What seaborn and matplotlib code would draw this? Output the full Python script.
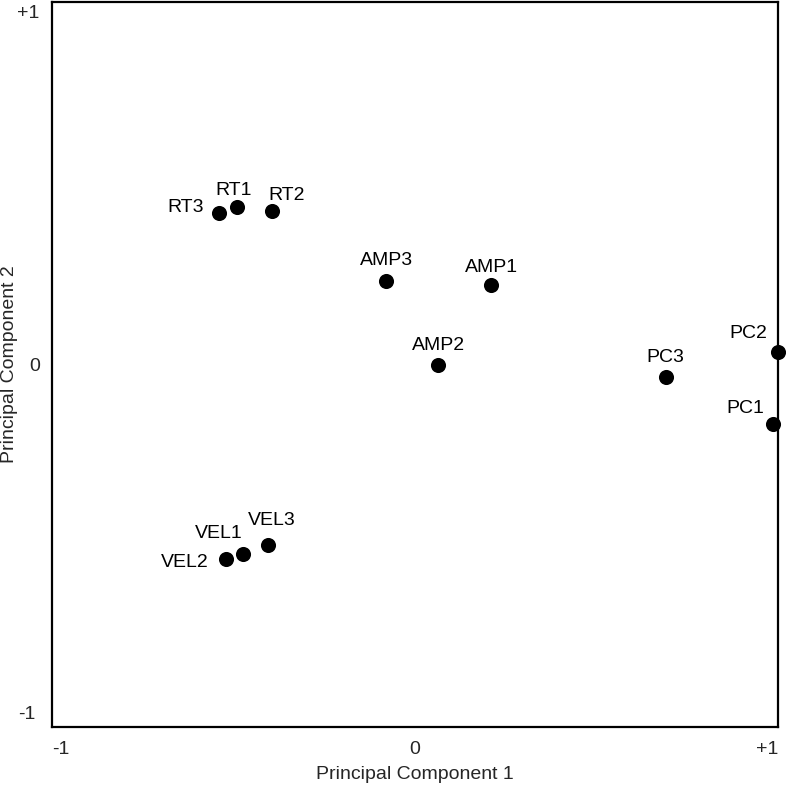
import numpy as np
import pandas as pd
import matplotlib
matplotlib.use("Agg")
import matplotlib.pyplot as plt
import matplotlib.transforms as mtransforms
import seaborn as sns

# sample labels and PCA scores
samples = ["RT3", "RT1", "RT2", "AMP3", "AMP1", "AMP2",
           "PC3", "PC2", "PC1", "VEL2", "VEL1", "VEL3"]
pc1 = [-0.540, -0.491, -0.395, -0.081, 0.209, 0.064,
       0.691, 1.001, 0.985, -0.521, -0.473, -0.404]
pc2 = [0.419, 0.434, 0.423, 0.231, 0.219, -0.001,
       -0.035, 0.034, -0.164, -0.537, -0.523, -0.498]

tick_vals = [-1, 0, 1]
tick_text = ["-1", "0", "+1"]

# label offsets in points (dx, dy of baseline centre)
label_off = {
    "RT3": (-24.1, 0.7), "RT1": (-2.2, 8.9), "RT2": (10.8, 7.9),
    "AMP3": (0.7, 11.3), "AMP1": (0.7, 9.6), "AMP2": (0, 10.8),
    "PC3": (-0.7, 11.2), "PC2": (-21.6, 10.1), "PC1": (-19.4, 8.1),
    "VEL2": (-29.5, -5.3), "VEL1": (-17.3, 11.3), "VEL3": (2.2, 14.4),
}

df = pd.DataFrame({"sample": samples, "pc1": pc1, "pc2": pc2})

sns.set_style("white")
plt.rcParams['font.family'] = ['Liberation Sans', 'DejaVu Sans']

fig = plt.figure(figsize=(7.86, 7.85), dpi=100)
ax = fig.add_axes([52 / 786, 1 - 727 / 785, 726 / 786, 725 / 785])

sns.scatterplot(data=df, x="pc1", y="pc2", ax=ax, color="black",
                s=118, edgecolor="black", linewidth=0, clip_on=False, zorder=3)

for _, row in df.iterrows():
    dx, dy = label_off[row["sample"]]
    ax.annotate(row["sample"], (row["pc1"], row["pc2"]), xytext=(dx, dy),
                textcoords="offset points", ha="center", va="baseline",
                fontsize=14, color="black")

ax.set_xlim(-1, 1)
ax.set_ylim(-1, 1)
ax.set_xticks(tick_vals)
ax.set_xticklabels(tick_text, fontsize=14)
ax.set_yticks(tick_vals)
ax.set_yticklabels(tick_text, fontsize=14)
ax.tick_params(axis="both", length=0)
ax.tick_params(axis="x", pad=10)
ax.tick_params(axis="y", pad=12)

xl = ax.get_xticklabels()
xl[0].set_ha("left")
xl[-1].set_ha("right")


def shift(lbl, dx_px, dy_px):
    lbl.set_transform(lbl.get_transform() +
                      mtransforms.ScaledTranslation(dx_px / 100, dy_px / 100,
                                                    fig.dpi_scale_trans))


yl = ax.get_yticklabels()
yl[0].set_va("bottom")
shift(yl[0], 0, 4)
shift(yl[1], 5, 0)
yl[-1].set_va("top")
shift(yl[-1], 4, -2.5)

ax.set_xlabel("Principal Component 1", fontsize=14, labelpad=6)
ax.set_ylabel("Principal Component 2", fontsize=14)
ax.yaxis.set_label_coords(-0.047, 0.5)

for sp in ax.spines.values():
    sp.set_visible(True)
    sp.set_color("black")
    sp.set_linewidth(1.6)
ax.grid(False)

fig.savefig("out.png", dpi=100)
